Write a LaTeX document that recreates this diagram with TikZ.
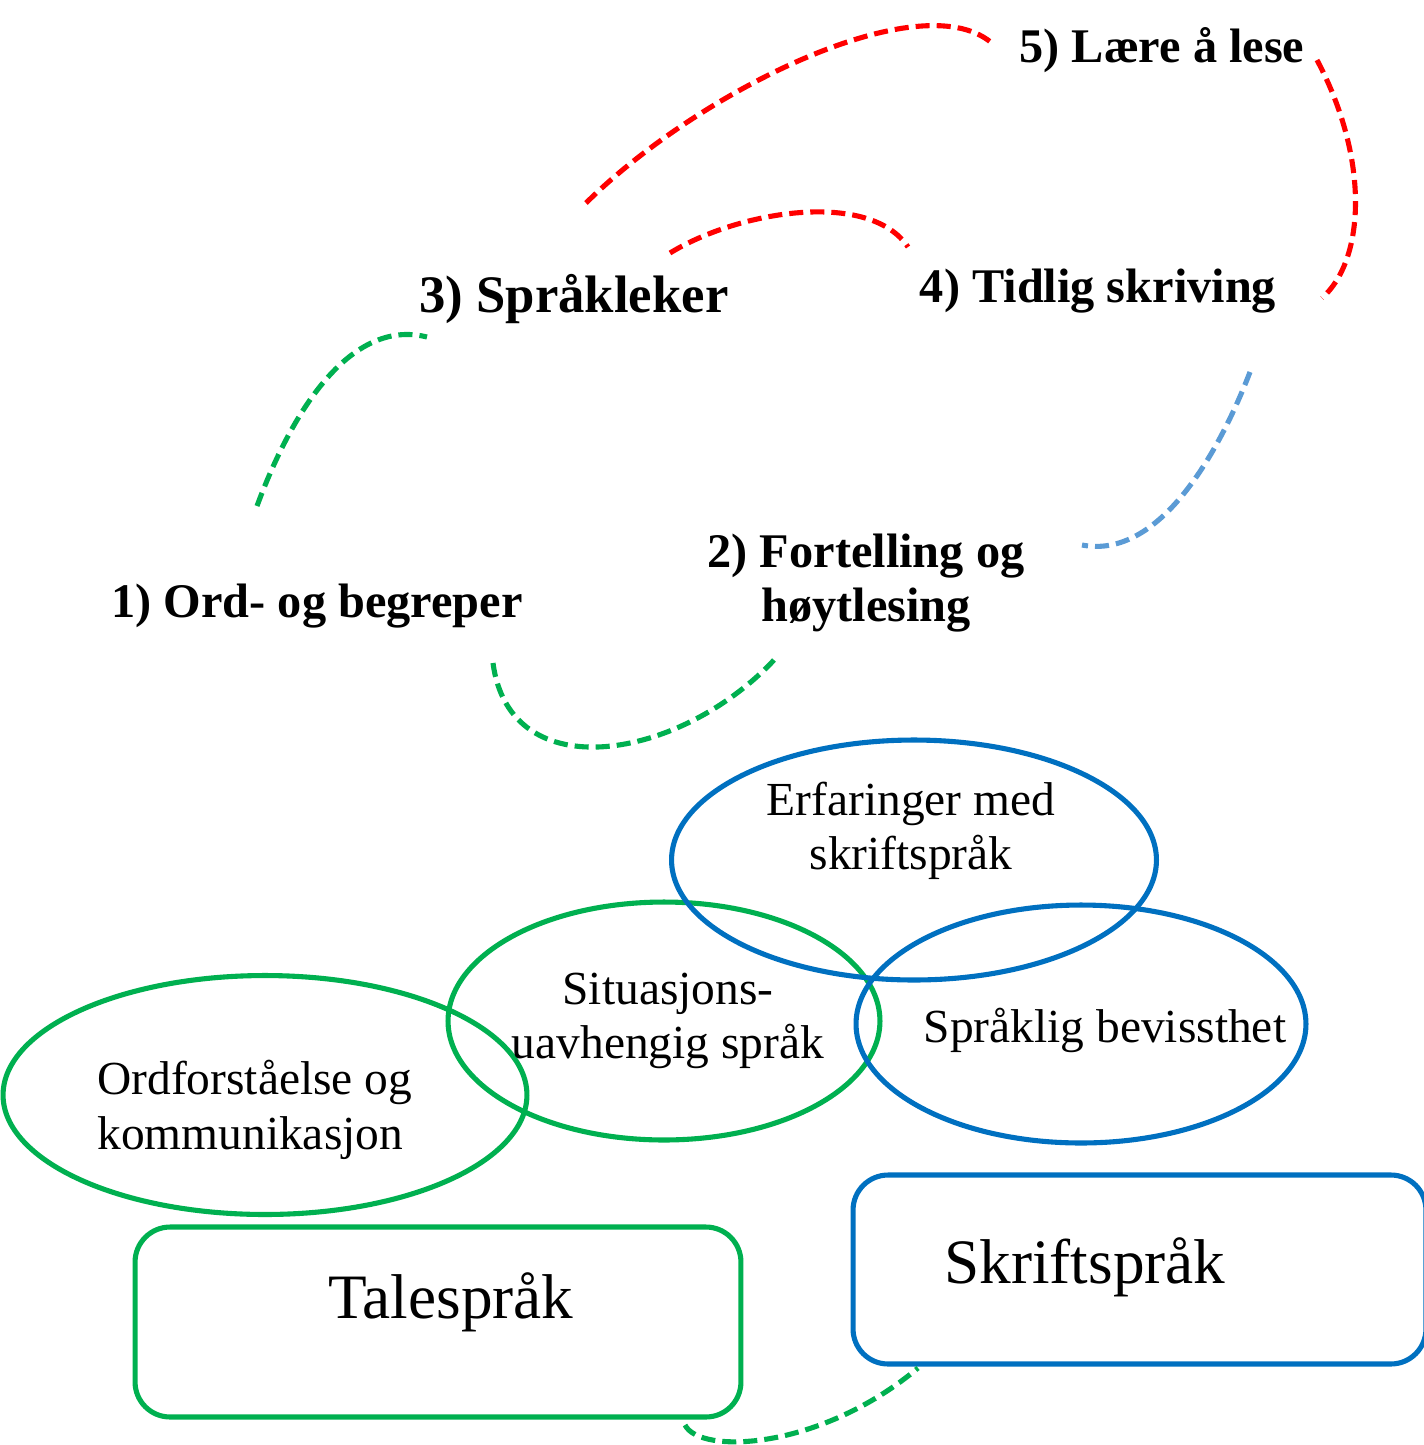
\documentclass[tikz,border=0pt]{standalone}
\usepackage{fontspec}
\setmainfont{Liberation Serif}
\usetikzlibrary{shapes.geometric}
\definecolor{lesered}{RGB}{255,0,0}
\definecolor{talegreen}{RGB}{0,176,80}
\definecolor{skriftblue}{RGB}{0,112,192}
\definecolor{paleblue}{RGB}{91,155,213}
\begin{document}
\begin{tikzpicture}[x=0.02cm,y=-0.02cm,
  stage/.style={inner sep=0pt,font=\fontsize{27.5}{31}\selectfont\bfseries},
  area/.style={inner sep=0pt,font=\fontsize{27}{31}\selectfont},
  bubble/.style={draw,line width=2.9pt,shape=ellipse,inner sep=0pt},
  langbox/.style={draw,line width=2.9pt,rounded corners=0.7cm,inner sep=0pt},
  link/.style={line width=2.9pt,dash pattern=on 8pt off 4pt}]
  \useasboundingbox (0,0) rectangle (1424,1445);
  % stages
  \node[stage,anchor=base] (s5) at (1162,62) {5) Lære å lese};
  \node[stage,anchor=base] (s4) at (1098,302) {4) Tidlig skriving};
  \node[stage,anchor=base,font=\fontsize{30}{31}\selectfont\bfseries] (s3) at (574,312) {3) Språkleker};
  \node[stage,align=center] (s2) at (866,583) {2) Fortelling og\\høytlesing};
  \node[stage,anchor=base] (s1) at (317,617) {1) Ord- og begreper};
  % bubbles
  \node[bubble,draw=talegreen,minimum width=10.48cm,minimum height=4.78cm] (ord) at (265,1095) {};
  \node[bubble,draw=talegreen,minimum width=8.64cm,minimum height=4.76cm] (sit) at (664,1021) {};
  \node[bubble,draw=skriftblue,minimum width=9.7cm,minimum height=4.8cm] (erf) at (914,860) {};
  \node[bubble,draw=skriftblue,minimum width=9cm,minimum height=4.76cm] (bev) at (1081,1024) {};
  \node[area,align=left,anchor=west] (ordtxt) at (97,1110) {Ordforståelse og\\kommunikasjon};
  \node[area,align=center] (sittxt) at (668,1021) {Situasjons-\\uavhengig språk};
  \node[area,align=center] (erftxt) at (911,831) {Erfaringer med\\skriftspråk};
  \node[area,anchor=base] (bevtxt) at (1105,1042) {Språklig bevissthet};
  % language boxes
  \node[langbox,draw=talegreen,minimum width=12.12cm,minimum height=3.8cm] (tale) at (438,1322) {};
  \node[langbox,draw=skriftblue,minimum width=11.46cm,minimum height=3.78cm] (skrift) at (1139.5,1269.5) {};
  \node[anchor=base,inner sep=0pt,font=\fontsize{36}{40}\selectfont] (taletxt) at (451,1318) {Talespråk};
  \node[anchor=base,inner sep=0pt,font=\fontsize{36}{40}\selectfont] (skrifttxt) at (1085,1283) {Skriftspråk};
  % link ends
  \coordinate (a3) at (586,203);  \coordinate (a5) at (994,45);
  \coordinate (b3) at (670,253);  \coordinate (b4) at (908,247);
  \coordinate (c5) at (1317,60);  \coordinate (c4) at (1322,298);
  \coordinate (d1) at (257,506);  \coordinate (d3) at (427,337);
  \coordinate (e1) at (493,663);  \coordinate (e2) at (774,660);
  \coordinate (g4) at (1250,372); \coordinate (g2) at (1082,545);
  \coordinate (ft) at (685,1425); \coordinate (fs) at (918,1368);
  % links
  \draw[link,lesered] (a3) .. controls (700,90) and (925,-20) .. (a5);
  \draw[link,lesered] (b3) .. controls (740,210) and (870,190) .. (b4);
  \draw[link,lesered] (c5) .. controls (1370,160) and (1365,260) .. (c4);
  \draw[link,talegreen] (d1) .. controls (300,390) and (360,320) .. (d3);
  \draw[link,talegreen] (e1) .. controls (510,790) and (680,760) .. (e2);
  \draw[link,paleblue] (g4) .. controls (1220,450) and (1160,560) .. (g2);
  \draw[link,talegreen] (ft) .. controls (700,1455) and (820,1450) .. (fs);
\end{tikzpicture}
\end{document}
